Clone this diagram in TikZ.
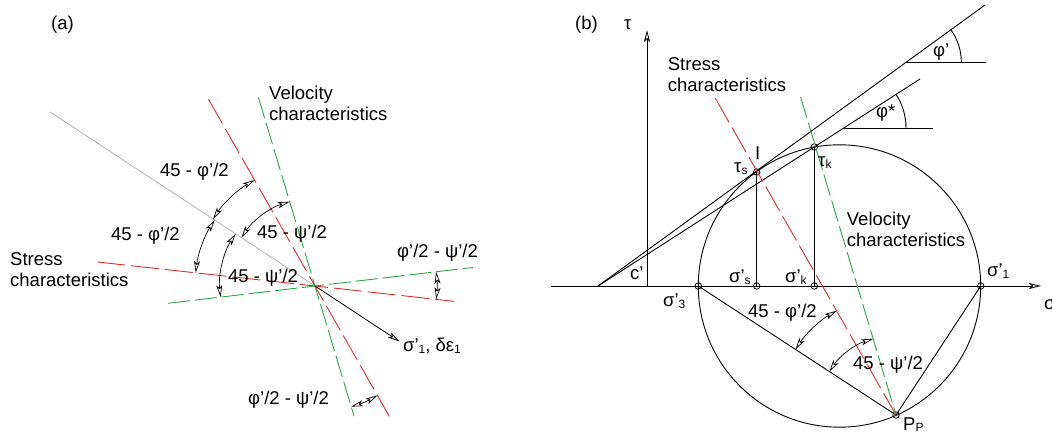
\documentclass[tikz,border=0pt]{standalone}
\usepackage{fontspec}
\setmainfont{Liberation Sans}
\usetikzlibrary{arrows.meta,calc}
\definecolor{cred}{RGB}{225,45,45}
\definecolor{cgreen}{RGB}{40,165,70}
\newcommand\lsub[1]{\raisebox{-1.5pt}{\fontsize{12}{12}\selectfont #1}}
\begin{document}
\begin{tikzpicture}[x=1pt,y=-1pt,
  lbl/.style={font=\fontsize{18.5}{21}\selectfont, inner sep=0pt, anchor=base west},
  mlbl/.style={font=\fontsize{18.5}{21}\selectfont, inner sep=0pt, anchor=north west, align=left},
  pt/.style={circle, draw, line width=0.8pt, inner sep=0pt, minimum size=6.5pt},
  ln/.style={line width=0.9pt},
  redd/.style={cred, line width=0.9pt, dash pattern=on 28pt off 6pt},
  grnd/.style={cgreen, line width=0.9pt, dash pattern=on 22pt off 5pt},
  tip/.style={},
  dim/.style={line width=0.7pt, {Stealth[open,length=12pt,width=6pt,inset=3pt]}-{Stealth[open,length=12pt,width=6pt,inset=3pt]}},
  arr/.style={line width=0.8pt, -{Stealth[open,length=12pt,width=6pt,inset=3pt]}}]
\useasboundingbox (0,0) rectangle (1052,435);

% ---------------- panel (a) ----------------
\node[lbl] (la) at (51,30) {(a)};
\coordinate (O) at (315,286);
\coordinate (gA) at ($(O)+(213.3:317)$);
\coordinate (rsA) at ($(O)+(240.3:215)$);
\coordinate (rsB) at ($(O)+(60.3:150)$);
\coordinate (rhA) at ($(O)+(186.3:219)$);
\coordinate (rhB) at ($(O)+(6.3:140)$);
\coordinate (gsA) at ($(O)+(253.3:197)$);
\coordinate (gsB) at ($(O)+(73.3:136)$);
\coordinate (ghA) at ($(O)+(173.3:148)$);
\coordinate (ghB) at ($(O)+(353.3:159)$);
\coordinate (s1t) at ($(O)+(33.3:101)$);

\draw[gray!60, line width=0.8pt] (gA) -- (O);
\draw[redd] (rsA) -- (rsB);
\draw[redd] (rhA) -- (rhB);
\draw[grnd] (gsA) -- (gsB);
\draw[grnd] (ghA) -- (ghB);
\draw[arr] (O) -- (s1t);

\draw[dim] ($(O)+(213.3:122)$) arc[start angle=213.3, end angle=240.3, radius=122];
\draw[dim] ($(O)+(186.3:120)$) arc[start angle=186.3, end angle=213.3, radius=120];
\draw[dim] ($(O)+(213.3:88)$) arc[start angle=213.3, end angle=253.3, radius=88];
\draw[dim] ($(O)+(173.3:95)$) arc[start angle=173.3, end angle=213.3, radius=95];
\draw[dim] ($(O)+(353.3:122)$) arc[start angle=353.3, end angle=366.3, radius=122];
\draw[dim] ($(O)+(60.3:126)$) arc[start angle=60.3, end angle=73.3, radius=126];

\node[mlbl] (vela) at (269,85.5) {Velocity\\characteristics};
\node[mlbl] (stra) at (10,252.5) {Stress\\characteristics};
\node[lbl] (a1) at (160,177) {45 - φ’/2};
\node[lbl] (a2) at (111,241) {45 - φ’/2};
\node[lbl] (a3) at (257,239) {45 - ψ’/2};
\node[lbl] (a4) at (228,283) {45 - ψ’/2};
\node[lbl] (a5) at (397,258) {φ’/2 - ψ’/2};
\node[lbl] (a6) at (248,404) {φ’/2 - ψ’/2};
\node[lbl] (sg1) at (403,352) {σ’\lsub{1}, δε\lsub{1}};

% ---------------- panel (b) ----------------
\node[lbl] (lb) at (575,30) {(b)};
\coordinate (C) at (839.5,286);
\draw[ln] (C) circle[radius=141.2];

\coordinate (sa0) at (551,286);
\coordinate (sa1) at (1041,286);
\coordinate (ta0) at (647,286);
\coordinate (ta1) at (647,30);
\draw[arr] (sa0) -- (sa1);
\draw[arr] (ta0) -- (ta1);

\coordinate (E0) at (598,286);
\coordinate (E1) at (985,5);
\coordinate (E2) at (920,79);
\draw[ln] (E0) -- (E1);
\draw[ln] (E0) -- (E2);

\coordinate (H1) at (906.3,62);
\coordinate (H1e) at (986,62);
\draw[ln] (H1) -- (H1e);
\draw[ln] ($(H1)+(-36:55)$) arc[start angle=-36, end angle=0, radius=55];
\coordinate (H2) at (844,128);
\coordinate (H2e) at (933,128);
\draw[ln] (H2) -- (H2e);
\draw[ln] ($(H2)+(-32.8:62)$) arc[start angle=-32.8, end angle=0, radius=62];

\node[pt] (s3) at (698.3,286) {};
\node[pt] (ss) at (756.7,286) {};
\node[pt] (sk) at (814.3,286) {};
\node[pt] (s1) at (980.7,286) {};
\node[pt] (ts) at (756.7,172) {};
\node[pt] (tk) at (814.3,147) {};
\node[pt] (Pp) at (896,415) {};

\draw[ln] (ss.center) -- (ts.center);
\draw[ln] (sk.center) -- (tk.center);
\draw[ln] (s3.center) -- (Pp.center);
\draw[ln] (s1.center) -- (Pp.center);

\coordinate (rb) at ($(Pp)+(240.3:365)$);
\coordinate (gb) at ($(Pp)+(253.3:332)$);
\draw[redd] (rb) -- (Pp.center);
\draw[grnd] (gb) -- (Pp.center);

\draw[dim] ($(Pp)+(213.1:120)$) arc[start angle=213.1, end angle=240.3, radius=120];
\draw[dim] ($(Pp)+(213.1:79.5)$) arc[start angle=213.1, end angle=253.3, radius=79.5];

\node[lbl] (tau) at (624,30) {τ};
\node[lbl] (sax) at (1044,310) {σ};
\node[mlbl] (strb) at (667.7,57) {Stress\\characteristics};
\node[mlbl] (velb) at (846.7,211.5) {Velocity\\characteristics};
\node[lbl] (phi1) at (933,57) {φ’};
\node[lbl] (phi2) at (876,118) {φ*};
\node[lbl] (Il) at (755,160) {I};
\node[lbl] (tsl) at (734,173) {τ\lsub{s}};
\node[lbl] (tkl) at (818,167) {τ\lsub{k}};
\node[lbl] (ssl) at (729,283) {σ’\lsub{s}};
\node[lbl] (skl) at (785,283) {σ’\lsub{k}};
\node[lbl] (s1l) at (987,277) {σ’\lsub{1}};
\node[lbl] (s3l) at (663,307) {σ’\lsub{3}};
\node[lbl] (cl) at (630,280) {c’};
\node[lbl] (b1) at (748,318) {45 - φ’/2};
\node[lbl] (b2) at (853,370) {45 - ψ’/2};
\node[lbl] (ppl) at (903,430) {P\lsub{P}};
\end{tikzpicture}
\end{document}
